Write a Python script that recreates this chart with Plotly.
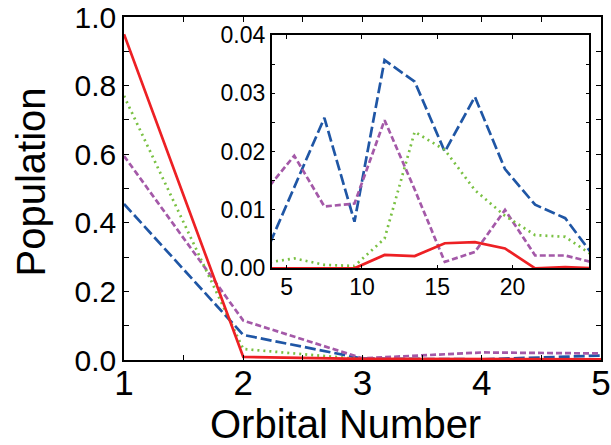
import plotly.graph_objects as go

# ---- main plot data ----
orbitals = [1, 2, 3, 4, 5]
red_main = [0.950, 0.009, 0.003, 0.002, 0.002]
green_main = [0.770, 0.032, 0.002, 0.001, 0.001]
purple_main = [0.595, 0.115, 0.005, 0.022, 0.019]
blue_main = [0.455, 0.073, 0.004, 0.002, 0.013]

# ---- inset data ----
inset_x = [3.5, 5.5, 7.5, 9.5, 11.5, 13.5, 15.5, 17.5, 19.5, 21.5, 23.5, 25.5]
red_inset = [0.0, 0.0, 0.0, 0.0, 0.0023, 0.0021, 0.0043, 0.0045, 0.0034, 0.0, 0.0002, 0.0]
green_inset = [0.0009, 0.0017, 0.0006, 0.0004, 0.0051, 0.0234, 0.0203, 0.0134, 0.0090, 0.0057, 0.0054, 0.0019]
purple_inset = [0.0130, 0.0193, 0.0106, 0.0111, 0.0254, 0.0135, 0.0011, 0.0028, 0.0100, 0.0022, 0.0022, 0.0009]
blue_inset = [0.0020, 0.0138, 0.0258, 0.0080, 0.0357, 0.0320, 0.0200, 0.0294, 0.0170, 0.0109, 0.0086, 0.0017]

main_y_ticks = [0.0, 0.2, 0.4, 0.6, 0.8, 1.0]
main_x_ticks = [1, 2, 3, 4, 5]
inset_x_ticks = [5, 10, 15, 20]

RED = "#ED2024"
GREEN = "#7AC143"
PURPLE = "#A459A8"
BLUE = "#1F56A5"

styles = [
    (BLUE, "11px,4px"),
    (PURPLE, "6px,3px"),
    (GREEN, "2px,4px"),
    (RED, "solid"),
]

FONT = "Arial, Liberation Sans, sans-serif"

fig = go.Figure()

main_series = [blue_main, purple_main, green_main, red_main]
for (color, dash), ys in zip(styles, main_series):
    fig.add_trace(go.Scatter(x=orbitals, y=ys, mode="lines",
                             line=dict(color=color, width=2.7, dash=dash),
                             xaxis="x", yaxis="y", showlegend=False))

inset_series = [blue_inset, purple_inset, green_inset, red_inset]
for (color, dash), ys in zip(styles, inset_series):
    fig.add_trace(go.Scatter(x=inset_x, y=ys, mode="lines",
                             line=dict(color=color, width=2.7, dash=dash),
                             xaxis="x2", yaxis="y2", showlegend=False))

axis_common = dict(showline=True, linecolor="black", linewidth=1.5, mirror="allticks",
                   showgrid=False, zeroline=False, ticks="inside", tickcolor="black",
                   automargin=False, ticklabeloverflow="allow")

fig.update_layout(
    template="none",
    width=611, height=445,
    margin=dict(l=124, r=10, t=17, b=85, pad=0, autoexpand=False),
    paper_bgcolor="white", plot_bgcolor="white",
    font=dict(family=FONT, color="black"),
    xaxis=dict(domain=[0, 1], range=[1, 5], tickvals=main_x_ticks,
               ticktext=[str(v) for v in main_x_ticks],
               ticklen=5, tickwidth=1, ticklabelstandoff=-9,
               minor=dict(dtick=0.5, tick0=1, ticks="inside", ticklen=5, tickcolor="black"),
               tickfont=dict(size=35, family=FONT), anchor="y", **axis_common),
    yaxis=dict(domain=[0, 1], range=[0, 1], tickvals=main_y_ticks,
               ticktext=["%.1f" % v for v in main_y_ticks],
               ticklen=5, tickwidth=1,
               minor=dict(dtick=0.1, tick0=0, ticks="inside", ticklen=5, tickcolor="black"),
               tickfont=dict(size=30, family=FONT), anchor="x", **axis_common),
    xaxis2=dict(domain=[0.3096, 0.9755], range=[4, 25.1], tickvals=inset_x_ticks,
                ticktext=[str(v) for v in inset_x_ticks],
                ticklen=4, tickwidth=1, ticklabelstandoff=-3,
                tickfont=dict(size=23, family=FONT), anchor="y2", **axis_common),
    yaxis2=dict(domain=[0.2673, 0.9475], range=[0, 0.04], tick0=0, dtick=0.01,
                tickformat=".2f", ticklen=4, tickwidth=1,
                minor=dict(dtick=0.005, tick0=0, ticks="inside", ticklen=4, tickcolor="black"),
                tickfont=dict(size=23, family=FONT), anchor="x2", **axis_common),
    annotations=[
        dict(text="Population", xref="paper", yref="paper", x=-0.195, y=0.5204,
             xanchor="center", yanchor="middle", textangle=-90, showarrow=False,
             font=dict(size=40, family=FONT)),
        dict(text="Orbital Number", xref="paper", yref="paper", x=0.4654, y=-0.1866,
             xanchor="center", yanchor="middle", showarrow=False,
             font=dict(size=40, family=FONT)),
    ],
)

# remove the browser's default 8px body margin so the figure sits at the page origin
fig.write_html("out.html",
               config={"displayModeBar": False},
               post_script="document.body.style.margin='0';document.body.style.overflow='hidden';")
